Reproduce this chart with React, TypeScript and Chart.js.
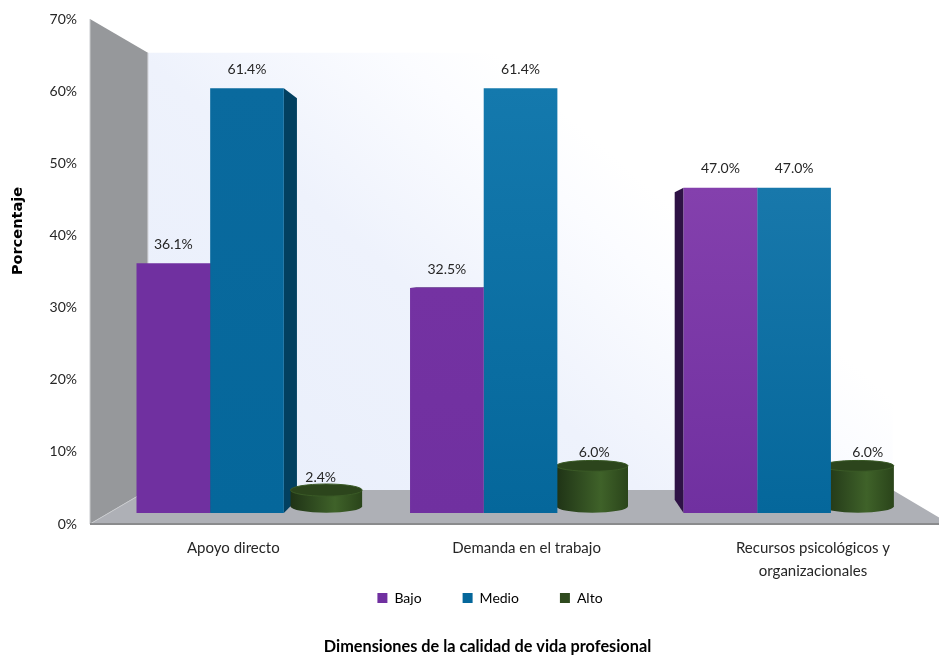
import React, { useEffect, useRef } from "react";
import { Chart, registerables } from "chart.js";

Chart.register(...registerables);

const categories: string[][] = [
  ["Apoyo directo"],
  ["Demanda en el trabajo"],
  ["Recursos psicológicos y", "organizacionales"],
];
const bajo = [36.1, 32.5, 47.0];
const medio = [61.4, 61.4, 47.0];
const alto = [2.4, 6.0, 6.0];
const yTicksMax = 70;
const yTitle = "Porcentaje";
const xTitle = "Dimensiones de la calidad de vida profesional";

const FONT = "Lato";
const COL_BAJO = "#7030A0";
const COL_MEDIO = "#05679B";
const COL_ALTO = "#2F4A1E";
const bajoTop = ["#7030A0", "#7432A2", "#8440AD"];
const medioTop = ["#0A6A9E", "#1479AD", "#1878AB"];

// perspective of the 3-D box
const VP = { x: 522, y: 271 };
const K_WALL = 0.866;
const K_BAR = 0.945;
const K_CYL = 0.972;
const proj = (x: number, y: number, k: number) => [VP.x + (x - VP.x) * k, VP.y + (y - VP.y) * k];

function poly(ctx: CanvasRenderingContext2D, pts: number[][], fill: string | CanvasGradient) {
  ctx.beginPath();
  pts.forEach((p, i) => (i ? ctx.lineTo(p[0], p[1]) : ctx.moveTo(p[0], p[1])));
  ctx.closePath();
  ctx.fillStyle = fill;
  ctx.fill();
}

const box3d = {
  id: "box3d",
  afterLayout(chart: any) {
    // tick labels are clipped to the axis box: let it reach past the legend's slot
    chart.scales.x.bottom += 60;
  },
  beforeDatasetsDraw(chart: any) {
    const { ctx, chartArea: a } = chart;
    const tl = [a.left, a.top], bl = [a.left, a.bottom], br = [a.right, a.bottom];
    const btl = proj(tl[0], tl[1], K_WALL), bbl = proj(bl[0], bl[1], K_WALL), bbr = proj(br[0], br[1], K_WALL);
    ctx.save();
    // back wall
    const g = ctx.createLinearGradient(btl[0], bbl[1], btl[0] + 394, bbl[1] - 453);
    g.addColorStop(0, "#E8EEFB");
    g.addColorStop(0.54, "#EEF2FC");
    g.addColorStop(0.82, "#FBFCFF");
    g.addColorStop(0.93, "#FFFFFF");
    ctx.fillStyle = g;
    ctx.fillRect(btl[0], btl[1], bbr[0] - btl[0], bbl[1] - btl[1]);
    // side wall and floor
    poly(ctx, [tl, btl, bbl, bl], "#96989B");
    poly(ctx, [bl, bbl, bbr, br], "#AEB0B6");
    ctx.lineWidth = 1;
    ctx.strokeStyle = "#C9CBCE";
    ctx.beginPath();
    ctx.moveTo(btl[0], btl[1]); ctx.lineTo(bbl[0], bbl[1]); ctx.lineTo(bl[0], bl[1]);
    ctx.moveTo(tl[0], tl[1]); ctx.lineTo(bl[0], bl[1]);
    ctx.stroke();
    ctx.strokeStyle = "#8A8B8D";
    ctx.lineWidth = 2;
    ctx.beginPath();
    ctx.moveTo(bl[0], bl[1]); ctx.lineTo(br[0], br[1]);
    ctx.stroke();
    // depth faces of the square bars
    [[0, "#2E1245", "#5A2A85"], [1, "#024060", "#0B5A88"]].forEach(([ds, side, top]: any) => {
      chart.getDatasetMeta(ds).data.forEach((el: any) => {
        const p = el.getProps(["x", "y", "base", "width"], true);
        const l = p.x - p.width / 2, r = p.x + p.width / 2;
        if (r < VP.x) poly(ctx, [[r, p.y], proj(r, p.y, K_BAR), proj(r, p.base, K_BAR), [r, p.base]], side);
        if (l > VP.x) poly(ctx, [[l, p.y], proj(l, p.y, K_BAR), proj(l, p.base, K_BAR), [l, p.base]], side);
        if (p.y > VP.y) poly(ctx, [[l, p.y], proj(l, p.y, K_BAR), proj(r, p.y, K_BAR), [r, p.y]], top);
      });
    });
    ctx.restore();
  },
  beforeDatasetDraw(chart: any, args: any) {
    if (args.index !== 2) return;
    const { ctx } = chart;
    ctx.save();
    args.meta.data.forEach((el: any) => {
      const p = el.getProps(["x", "y", "base", "width"], true);
      const [cx, ty] = proj(p.x, p.y, K_CYL);
      const [, by] = proj(p.x, p.base, K_CYL);
      const rx = (p.width / 2) * K_CYL;
      const ryT = (p.y - VP.y) * (K_CYL - K_BAR);
      const ryB = (p.base - VP.y) * (K_CYL - K_BAR);
      const g = ctx.createLinearGradient(cx - rx, 0, cx + rx, 0);
      g.addColorStop(0, "#1F3316");
      g.addColorStop(0.62, "#3F6229");
      g.addColorStop(1, "#2A441A");
      ctx.beginPath();
      ctx.moveTo(cx - rx, ty);
      ctx.lineTo(cx - rx, by);
      ctx.ellipse(cx, by, rx, ryB, 0, Math.PI, 0, true);
      ctx.lineTo(cx + rx, ty);
      ctx.closePath();
      ctx.fillStyle = g;
      ctx.fill();
      ctx.beginPath();
      ctx.ellipse(cx, ty, rx, ryT, 0, 0, Math.PI * 2);
      ctx.fillStyle = "#2C451C";
      ctx.fill();
      ctx.strokeStyle = "#3A5A26";
      ctx.lineWidth = 1;
      ctx.stroke();
    });
    ctx.restore();
    return false;
  },
  afterDatasetsDraw(chart: any) {
    const { ctx } = chart;
    ctx.save();
    ctx.font = `14px ${FONT}`;
    ctx.fillStyle = "#262626";
    ctx.textAlign = "center";
    ctx.textBaseline = "middle";
    chart.data.datasets.forEach((ds: any, i: number) => {
      chart.getDatasetMeta(i).data.forEach((el: any, j: number) => {
        const p = el.getProps(["x", "y"], true);
        ctx.fillText(ds.data[j].y.toFixed(1) + "%", p.x, p.y - 19);
      });
    });
    ctx.restore();
  },
  afterDraw(chart: any) {
    const { ctx } = chart;
    ctx.save();
    ctx.fillStyle = "#000000";
    ctx.textAlign = "center";
    ctx.textBaseline = "middle";
    ctx.font = `bold 16.3px ${FONT}`;
    ctx.fillText(xTitle, 487.5, 647);
    ctx.translate(18, 231);
    ctx.rotate(-Math.PI / 2);
    ctx.font = `bold 14.5px "DejaVu Sans"`;
    ctx.fillText(yTitle, 0, 0);
    ctx.restore();
  },
};

const toPoints = (vals: number[]) => vals.map((y, x) => ({ x, y }));

function vertical(base: string, tops: string[] | null, vals: number[]) {
  return (c: any) => {
    if (c.dataIndex === undefined || !tops || !c.chart.scales.y2) return base;
    const s = c.chart.scales.y2;
    const g = c.chart.ctx.createLinearGradient(0, s.getPixelForValue(vals[c.dataIndex]), 0, s.getPixelForValue(0));
    g.addColorStop(0, tops[c.dataIndex]);
    g.addColorStop(1, base);
    return g;
  };
}

export default function App() {
  const ref = useRef<HTMLCanvasElement>(null);
  useEffect(() => {
    document.body.style.margin = "0";
    const chart = new Chart(ref.current as HTMLCanvasElement, {
      type: "bar",
      plugins: [box3d],
      data: {
        labels: categories as any,
        datasets: [
          { label: "Bajo", data: toPoints(bajo) as any, backgroundColor: vertical(COL_BAJO, bajoTop, bajo) as any, xAxisID: "x2", yAxisID: "y2" },
          { label: "Medio", data: toPoints(medio) as any, backgroundColor: vertical(COL_MEDIO, medioTop, medio) as any, xAxisID: "x2", yAxisID: "y2" },
          { label: "Alto", data: toPoints(alto) as any, backgroundColor: COL_ALTO, xAxisID: "x2", yAxisID: "y2" },
        ],
      },
      options: {
        responsive: false,
        animation: false,
        devicePixelRatio: 1,
        categoryPercentage: 0.808,
        barPercentage: 1,
        borderWidth: 0,
        layout: { padding: { left: 30, top: 19, bottom: 41, right: 0 } },
        plugins: {
          title: { display: false },
          tooltip: { enabled: false },
          legend: {
            position: "bottom",
            labels: {
              boxWidth: 10,
              boxHeight: 10,
              padding: 41,
              color: "#262626",
              font: { family: FONT, size: 14 },
              generateLabels: (c: any) =>
                c.data.datasets.map((d: any, i: number) => ({
                  text: d.label,
                  fillStyle: [COL_BAJO, COL_MEDIO, COL_ALTO][i],
                  strokeStyle: "transparent",
                  lineWidth: 0,
                  hidden: false,
                  datasetIndex: i,
                })),
            },
          },
        },
        scales: {
          x: {
            type: "category",
            position: "bottom",
            offset: true,
            grid: { display: false, drawTicks: false },
            border: { display: false },
            afterBuildTicks: (s: any) => {
              s.ticks = [0, 1.023, 2.022].map((value) => ({ value }));
            },
            afterFit: (s: any) => {
              s.height = 26;
            },
            ticks: {
              autoSkip: false,
              maxRotation: 0,
              padding: 13,
              color: "#262626",
              font: { family: FONT, size: 15, lineHeight: 1.5 },
              callback: (_v: any, i: number) => categories[i],
            },
          },
          y: {
            type: "linear",
            position: "left",
            min: 0,
            max: yTicksMax,
            grid: { display: false, drawTicks: false },
            border: { display: false },
            afterFit: (s: any) => {
              s.width = 60;
              s.paddingTop = 0;
              s.paddingBottom = 0;
            },
            ticks: {
              stepSize: 10,
              padding: 13,
              color: "#262626",
              font: { family: FONT, size: 14 },
              callback: (v: any) => v + "%",
            },
          },
          x2: {
            type: "linear", axis: "x", display: false, offset: false, min: -0.574, max: 2.57,
            afterBuildTicks: (s: any) => {
              s.ticks = categories.map((_c, value) => ({ value }));
            },
          } as any,
          y2: { type: "linear", axis: "y", display: false, min: -1.59, max: 71.39 } as any,
        },
      } as any,
    });
    return () => chart.destroy();
  }, []);
  return (
    <div style={{ width: 939, height: 656, overflow: "hidden" }}>
      <canvas ref={ref} width={950} height={656} style={{ display: "block" }} />
    </div>
  );
}
